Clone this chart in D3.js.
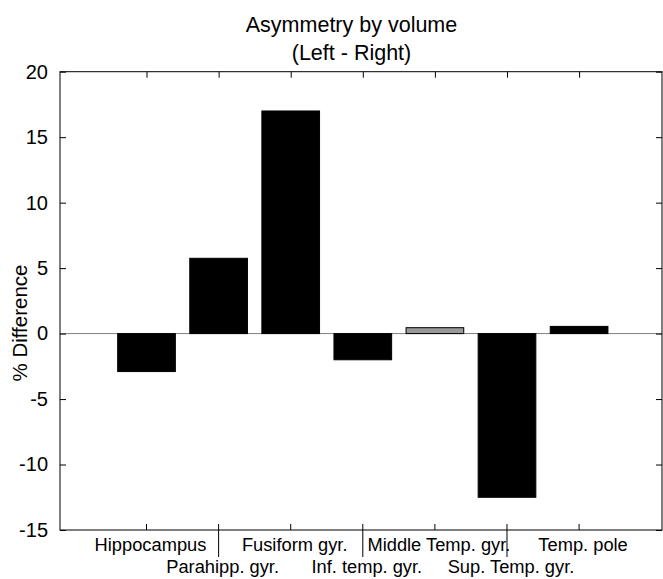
<!DOCTYPE html>
<html>
<head>
<meta charset="utf-8">
<script src="https://cdn.jsdelivr.net/npm/d3@7"></script>
<style>
  html, body { margin: 0; padding: 0; background: #fff; }
  svg { display: block; font-family: "Liberation Sans", Arial, Helvetica, sans-serif; }
</style>
</head>
<body>
<svg id="chart" width="663" height="579"></svg>
<script>
const categories = ["Hippocampus", "Parahipp. gyr.", "Fusiform gyr.", "Inf. temp. gyr.", "Middle Temp. gyr.", "Sup. Temp. gyr.", "Temp. pole"];
const values = [-2.9, 5.75, 17.0, -2.0, 0.45, -12.5, 0.55];
const barColors = ["#000000", "#000000", "#000000", "#000000", "#999999", "#000000", "#000000"];
const yTicks = [-15, -10, -5, 0, 5, 10, 15, 20];
const titleLines = ["Asymmetry by volume", "(Left - Right)"];
const yLabel = "% Difference";

const svg = d3.select("#chart");
const pL = 60, pR = 662, pT = 71.7, pB = 530;

const x = d3.scaleLinear().domain([-0.2, 8.15]).range([pL, pR]);
const y = d3.scaleLinear().domain([-15, 20]).range([pB, pT]);
const idx = categories.map((c, i) => i + 1);
const barW = x(0.8) - x(0);

// zero line
svg.append("line")
  .attr("x1", pL).attr("x2", pR)
  .attr("y1", y(0)).attr("y2", y(0))
  .attr("stroke", "#808080").attr("stroke-width", 1);

// bars
svg.append("g").selectAll("rect").data(values).join("rect")
  .attr("x", (d, i) => x(idx[i]) - barW / 2)
  .attr("width", barW)
  .attr("y", d => y(Math.max(0, d)))
  .attr("height", d => Math.abs(y(d) - y(0)))
  .attr("fill", (d, i) => barColors[i])
  .attr("stroke", "#000").attr("stroke-width", 1);

// box
svg.append("rect")
  .attr("x", pL).attr("y", pT)
  .attr("width", pR - pL).attr("height", pB - pT)
  .attr("fill", "none").attr("stroke", "#000").attr("stroke-width", 1);

// y axis (ticks inward)
const yAxis = d3.axisLeft(y).tickValues(yTicks).tickFormat(d => String(d))
  .tickSizeInner(-6).tickSizeOuter(0).tickPadding(12);
const gy = svg.append("g").attr("transform", `translate(${pL},0)`).call(yAxis);
gy.select(".domain").remove();
gy.selectAll("text").attr("font-size", 20).attr("fill", "#000")
  .attr("font-family", "Liberation Sans, Arial, sans-serif");
gy.selectAll("line").attr("stroke", "#000");

const yAxisR = d3.axisRight(y).tickValues(yTicks).tickSizeInner(-6).tickSizeOuter(0).tickFormat("");
const gyr = svg.append("g").attr("transform", `translate(${pR},0)`).call(yAxisR);
gyr.select(".domain").remove();
gyr.selectAll("line").attr("stroke", "#000");

// top ticks
const xTop = d3.axisTop(x).tickValues(idx).tickSizeInner(-6).tickSizeOuter(0).tickFormat("");
const gxt = svg.append("g").attr("transform", `translate(0,${pT})`).call(xTop);
gxt.select(".domain").remove();
gxt.selectAll("line").attr("stroke", "#000");

// bottom ticks: inward; alternate ones extend down as leaders
const gxb = svg.append("g");
gxb.selectAll("line").data(idx).join("line")
  .attr("x1", d => x(d)).attr("x2", d => x(d))
  .attr("y1", pB - 6)
  .attr("y2", (d, i) => i % 2 === 1 ? pB + 27 : pB)
  .attr("stroke", "#000").attr("stroke-width", 1);

gxb.selectAll("text").data(categories).join("text")
  .attr("x", (d, i) => x(idx[i]) + 4)
  .attr("y", (d, i) => i % 2 === 1 ? 572.7 : 550.7)
  .attr("text-anchor", "middle")
  .attr("font-size", 18.3)
  .attr("fill", "#000")
  .text(d => d);

// title
svg.append("g").selectAll("text").data(titleLines).join("text")
  .attr("x", 351.5)
  .attr("y", (d, i) => i === 0 ? 31.7 : 60)
  .attr("text-anchor", "middle")
  .attr("font-size", 21.5)
  .attr("fill", "#000")
  .text(d => d);

// y label
svg.append("text")
  .attr("transform", "translate(26.5,323) rotate(-90)")
  .attr("text-anchor", "middle")
  .attr("font-size", 20.5)
  .attr("fill", "#000")
  .text(yLabel);
</script>
</body>
</html>
